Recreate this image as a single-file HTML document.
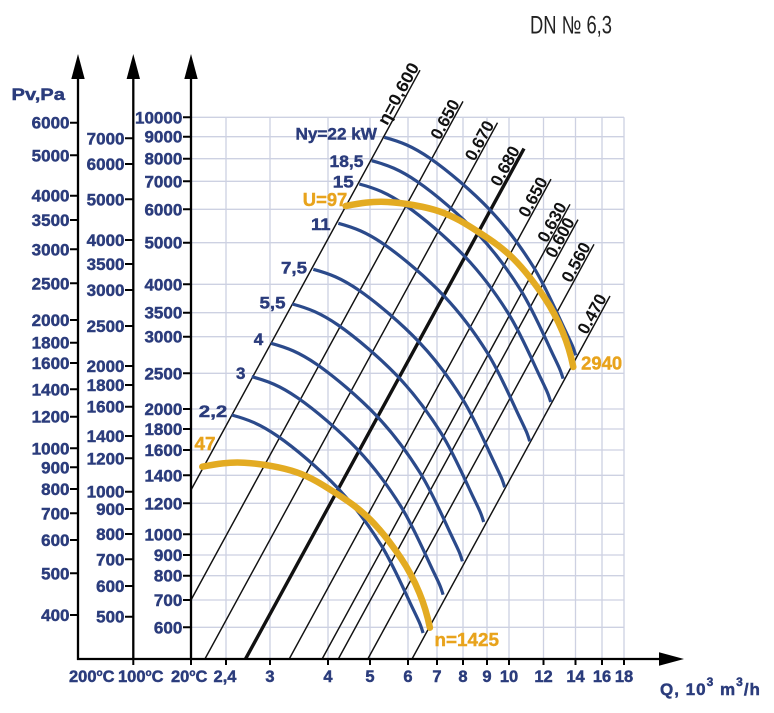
<!DOCTYPE html>
<html><head><meta charset="utf-8"><style>
html,body{margin:0;padding:0;background:#fff;}
svg{display:block;}
.ax{font-family:"Liberation Sans",Arial,sans-serif;font-weight:bold;font-size:17px;fill:#2b3c7c;stroke:#2b3c7c;stroke-width:0.45px;}
.bx{font-family:"Liberation Sans",Arial,sans-serif;font-weight:bold;font-size:16.5px;fill:#2b3c7c;stroke:#2b3c7c;stroke-width:0.45px;}
.or{font-family:"Liberation Sans",Arial,sans-serif;font-weight:bold;font-size:18px;fill:#e8a31c;stroke:#e8a31c;stroke-width:0.4px;}
.et{font-family:"Liberation Sans",Arial,sans-serif;font-weight:bold;font-size:17px;fill:#111;}
</style></head><body>
<svg width="774" height="713" viewBox="0 0 774 713" xmlns="http://www.w3.org/2000/svg">
<rect width="774" height="713" fill="#fff"/>
<defs>
<path id="bc" d="M0,0 C16,4.3 28.1,8.9 45.7,21 C63.3,33.1 88.5,54.6 105.7,72.7 C122.9,90.8 136.5,109.4 149,129.4 C161.5,149.4 173.6,177.9 180.7,192.7 C187.8,207.5 188.7,209 191.4,218" fill="none" stroke="#2b4a8b" stroke-width="3.2"/>
<path id="yc" d="M0,0 C14,-2.7 26.3,-4.9 42,-4 C57.7,-3.1 78.6,0.3 94,5.5 C109.4,10.7 122,19.1 134.3,27 C146.6,34.9 157.2,42.2 168,53 C178.8,63.8 190.8,79.8 199,92 C207.2,104.2 212.2,114.5 217,126 C221.8,137.5 225.3,149.7 227.6,161" fill="none" stroke="#e3ab22" stroke-width="6.5" stroke-linecap="round"/>
</defs>

<!-- grid -->
<g stroke="#cdd1e2" stroke-width="1.3">
<path d="M226,117.3V659M270,117.3V659M328,117.3V659M370,117.3V659M408,117.3V659M437,117.3V659M463,117.3V659M487,117.3V659M509,117.3V659M543.5,117.3V659M575.5,117.3V659M602,117.3V659M624,117.3V659"/>
<path d="M191,117.3H624M191,136.7H624M191,158.7H624M191,181.3H624M191,209.3H624M191,242.7H624M191,284.3H624M191,312.7H624M191,336.7H624M191,373.3H624M191,409H624M191,429H624M191,450H624M191,475.3H624M191,503.3H624M191,534.3H624M191,555H624M191,575.7H624M191,600H624M191,627.3H624"/>
</g>

<!-- efficiency lines -->
<g stroke="#111" stroke-width="1.45" fill="none">
<path d="M191,490L420,70.2"/>
<path d="M191,600L463,101.4"/>
<path d="M204.9,659L497.5,122.7"/>
<path d="M289.2,659L551,179.1"/>
<path d="M322.1,659L570,204.3"/>
<path d="M338.3,659L578,219.6"/>
<path d="M367.8,659L594,244.3"/>
<path d="M412,659L610,296"/>
</g>
<path d="M245.5,659L524,148.6" stroke="#111" stroke-width="3.4"/>

<!-- blue curves -->
<use href="#bc" x="384.3" y="137.3"/>
<use href="#bc" x="371.7" y="160.7"/>
<use href="#bc" x="359.3" y="184"/>
<use href="#bc" x="338.3" y="223.3"/>
<use href="#bc" x="313.3" y="269.3"/>
<use href="#bc" x="292.3" y="304"/>
<use href="#bc" x="271" y="343.3"/>
<use href="#bc" x="251.7" y="376.7"/>
<use href="#bc" x="231.7" y="415"/>

<!-- yellow curves -->
<use href="#yc" x="345.7" y="206"/>
<use href="#yc" x="202.3" y="466.7"/>

<!-- axes -->
<g stroke="#000" stroke-width="2.3" fill="none">
<path d="M78,660V76M133.3,660V76M191,660V76M77,659H662"/>
</g>
<g fill="#000">
<polygon points="78,54 71.3,79 84.7,79"/>
<polygon points="133.3,54 126.6,79 140,79"/>
<polygon points="191,54 184.3,79 197.7,79"/>
<polygon points="684,659 659,652.3 659,665.7"/>
</g>

<!-- ticks -->
<g stroke="#000" stroke-width="2">
<path d="M70,122.7H78M70,155.3H78M70,195.7H78M70,220H78M70,249.3H78M70,283.3H78M70,320H78M70,342.7H78M70,363H78M70,389.3H78M70,416.7H78M70,448.3H78M70,467.3H78M70,489H78M70,513.3H78M70,540H78M70,573.3H78M70,615H78"/>
<path d="M125,138.3H133M125,164H133M125,199.3H133M125,240H133M125,264H133M125,290H133M125,326H133M125,366H133M125,385H133M125,406.7H133M125,436H133M125,458.3H133M125,491.7H133M125,509H133M125,534H133M125,559.3H133M125,586H133M125,616.7H133"/>
<path d="M183,117.3H191M183,136.7H191M183,158.7H191M183,181.3H191M183,209.3H191M183,242.7H191M183,284.3H191M183,312.7H191M183,336.7H191M183,373.3H191M183,409H191M183,429H191M183,450H191M183,475.3H191M183,503.3H191M183,534.3H191M183,555H191M183,575.7H191M183,600H191M183,627.3H191"/>
<path d="M133.3,659V665M191,659V665M226,659V665M270,659V665M328,659V665M370,659V665M408,659V665M437,659V665M463,659V665M487,659V665M509,659V665M543.5,659V665M575.5,659V665M602,659V665M624,659V665"/>
</g>

<!-- title -->
<text x="530" y="33.3" font-family="'Liberation Sans',Arial,sans-serif" font-size="25" fill="#222" textLength="82" lengthAdjust="spacingAndGlyphs">DN № 6,3</text>

<!-- Pv label -->
<text class="ax" x="11.5" y="100" font-size="19.5" textLength="53.5" lengthAdjust="spacingAndGlyphs">Pv,Pa</text>

<!-- first axis labels -->
<g class="ax" text-anchor="end">
<text x="69.5" y="128.7">6000</text><text x="69.5" y="161.3">5000</text><text x="69.5" y="201.7">4000</text><text x="69.5" y="226">3500</text><text x="69.5" y="255.3">3000</text><text x="69.5" y="289.3">2500</text><text x="69.5" y="326">2000</text><text x="69.5" y="348.7">1800</text><text x="69.5" y="369">1600</text><text x="69.5" y="395.3">1400</text><text x="69.5" y="422.7">1200</text><text x="69.5" y="454.3">1000</text><text x="69.5" y="473.3">900</text><text x="69.5" y="495">800</text><text x="69.5" y="519.3">700</text><text x="69.5" y="546">600</text><text x="69.5" y="579.3">500</text><text x="69.5" y="621">400</text>
</g>
<!-- second axis labels -->
<g class="ax" text-anchor="end">
<text x="124.5" y="144.3">7000</text><text x="124.5" y="170">6000</text><text x="124.5" y="205.3">5000</text><text x="124.5" y="246">4000</text><text x="124.5" y="270">3500</text><text x="124.5" y="296">3000</text><text x="124.5" y="332">2500</text><text x="124.5" y="372">2000</text><text x="124.5" y="391">1800</text><text x="124.5" y="412.7">1600</text><text x="124.5" y="442">1400</text><text x="124.5" y="464.3">1200</text><text x="124.5" y="497.7">1000</text><text x="124.5" y="515">900</text><text x="124.5" y="540">800</text><text x="124.5" y="565.3">700</text><text x="124.5" y="592">600</text><text x="124.5" y="622.7">500</text>
</g>
<!-- third axis labels -->
<g class="ax" text-anchor="end">
<text x="182.3" y="123.3">10000</text><text x="182.3" y="142.7">9000</text><text x="182.3" y="164.7">8000</text><text x="182.3" y="187.3">7000</text><text x="182.3" y="215.3">6000</text><text x="182.3" y="248.7">5000</text><text x="182.3" y="290.3">4000</text><text x="182.3" y="318.7">3500</text><text x="182.3" y="342.7">3000</text><text x="182.3" y="379.3">2500</text><text x="182.3" y="415">2000</text><text x="182.3" y="435">1800</text><text x="182.3" y="456">1600</text><text x="182.3" y="481.3">1400</text><text x="182.3" y="509.3">1200</text><text x="182.3" y="540.3">1000</text><text x="182.3" y="561">900</text><text x="182.3" y="581.7">800</text><text x="182.3" y="606">700</text><text x="182.3" y="633.3">600</text>
</g>

<!-- bottom labels -->
<g class="bx" text-anchor="middle">
<text x="225" y="681.8">2,4</text><text x="270" y="681.8">3</text><text x="328" y="681.8">4</text><text x="370" y="681.8">5</text><text x="408" y="681.8">6</text><text x="437" y="681.8">7</text><text x="463" y="681.8">8</text><text x="487" y="681.8">9</text><text x="509" y="681.8">10</text><text x="543.5" y="681.8">12</text><text x="575.5" y="681.8">14</text><text x="602" y="681.8">16</text><text x="624" y="681.8">18</text>
</g>
<g class="bx" font-size="16">
<text x="69" y="681.8">200<tspan font-size="10" dy="-6">o</tspan><tspan dy="6">C</tspan></text>
<text x="118" y="681.8">100<tspan font-size="10" dy="-6">o</tspan><tspan dy="6">C</tspan></text>
<text x="171" y="681.8">20<tspan font-size="10" dy="-6">o</tspan><tspan dy="6">C</tspan></text>
</g>
<text class="ax" x="660" y="695" font-size="21" letter-spacing="1">Q, 10<tspan font-size="12" dy="-9">3</tspan><tspan dy="9"> m</tspan><tspan font-size="12" dy="-9">3</tspan><tspan dy="9">/h</tspan></text>

<!-- curve labels -->
<g class="ax" font-size="18">
<text x="295.5" y="139.5" textLength="81.5" lengthAdjust="spacingAndGlyphs">Ny=22 kW</text>
<text x="329.5" y="167" textLength="34" lengthAdjust="spacingAndGlyphs">18,5</text>
<text x="332.8" y="187.5" textLength="21" lengthAdjust="spacingAndGlyphs">15</text>
<text x="311" y="230.2" textLength="19.5" lengthAdjust="spacingAndGlyphs">11</text>
<text x="281" y="273.5" textLength="26" lengthAdjust="spacingAndGlyphs">7,5</text>
<text x="259.5" y="308.5" textLength="26" lengthAdjust="spacingAndGlyphs">5,5</text>
<text x="253.8" y="345.2">4</text>
<text x="236" y="379.2">3</text>
<text x="198.8" y="417.2" textLength="28.5" lengthAdjust="spacingAndGlyphs">2,2</text>
</g>
<g class="or">
<text x="302.8" y="206" textLength="44.5" lengthAdjust="spacingAndGlyphs">U=97</text>
<text x="194.5" y="450" textLength="21" lengthAdjust="spacingAndGlyphs">47</text>
<text x="434.5" y="646" textLength="64.5" lengthAdjust="spacingAndGlyphs">n=1425</text>
<text x="581.2" y="369.3" textLength="41" lengthAdjust="spacingAndGlyphs">2940</text>
</g>

<!-- efficiency labels -->
<g class="et" text-anchor="end">
<text transform="translate(419.7,66.6) rotate(-61.4)" textLength="68" lengthAdjust="spacingAndGlyphs">η=0,600</text>
<text transform="translate(460.2,103.4) rotate(-61.4)">0.650</text>
<text transform="translate(494.7,124.7) rotate(-61.4)">0.670</text>
<text transform="translate(520.3,150.1) rotate(-61.4)">0.680</text>
<text transform="translate(548.2,181.1) rotate(-61.4)">0.650</text>
<text transform="translate(567.2,206.3) rotate(-61.4)">0.630</text>
<text transform="translate(575.2,221.6) rotate(-61.4)">0.600</text>
<text transform="translate(591.2,246.3) rotate(-61.4)">0.560</text>
<text transform="translate(607.2,298) rotate(-61.4)">0.470</text>
</g>
</svg>
</body></html>
